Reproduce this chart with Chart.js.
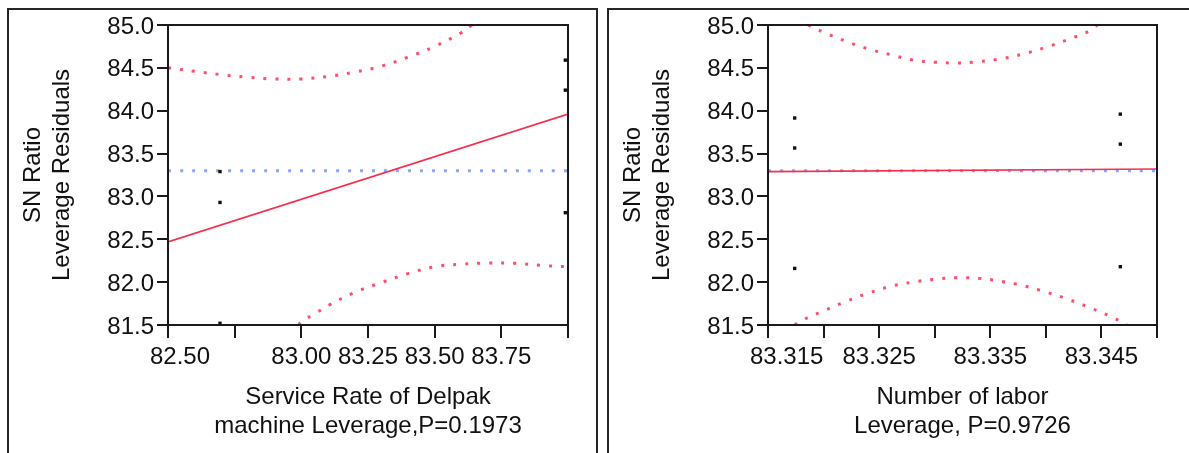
<!DOCTYPE html>
<html>
<head>
<meta charset="utf-8">
<title>SN Ratio leverage plots</title>
<script src="https://cdn.jsdelivr.net/npm/chart.js@4/dist/chart.umd.min.js"></script>
<style>
  html, body { margin: 0; padding: 0; background: #fff; }
  body { width: 1189px; height: 453px; position: relative; overflow: hidden; }
  .panel { position: absolute; top: 8px; height: 520px; border: 2px solid #262626; box-sizing: border-box; }
  #p1 { left: 7px; width: 591px; }
  #p2 { left: 607px; width: 640px; }
  canvas { position: absolute; top: 0; }
  #c1 { left: 0; }
  #c2 { left: 600px; }
</style>
</head>
<body>
<div class="panel" id="p1"></div>
<div class="panel" id="p2"></div>
<canvas id="c1" width="600" height="453"></canvas>
<canvas id="c2" width="589" height="453"></canvas>
<script>
// ---- shared response axis ----
const yTicks = [81.5, 82.0, 82.5, 83.0, 83.5, 84.0, 84.5, 85.0];
const yTickLabels = ['81.5', '82.0', '82.5', '83.0', '83.5', '84.0', '84.5', '85.0'];
const yTitle = ['SN Ratio', 'Leverage Residuals'];

// ---- Service Rate of Delpak machine ----
const delpakTicks = [82.5, 82.75, 83.0, 83.25, 83.5, 83.75, 84.0];
const delpakTickLabels = ['82.50', '', '83.00', '83.25', '83.50', '83.75', ''];
const delpakTitle = ['Service Rate of Delpak', 'machine Leverage,P=0.1973'];
const delpakX = [82.695, 82.695, 82.695, 83.99, 83.99, 83.99];
const delpakResid = [83.29, 82.93, 81.52, 84.59, 84.24, 82.81];
const delpakMean = 83.30;
const delpakFitX = [82.5, 84.0];
const delpakFitY = [82.47, 83.96];
const delpakUpperX = [82.5, 82.6, 82.7, 82.8, 82.9, 83.0, 83.1, 83.2, 83.3, 83.4, 83.5, 83.6, 83.64];
const delpakUpperY = [84.50, 84.46, 84.42, 84.39, 84.37, 84.37, 84.40, 84.45, 84.52, 84.625, 84.75, 84.91, 85.0];
const delpakLowerX = [82.99, 83.0, 83.05, 83.1, 83.2, 83.3, 83.4, 83.5, 83.6, 83.7, 83.8, 83.9, 84.0];
const delpakLowerY = [81.50, 81.54, 81.63, 81.725, 81.88, 81.995, 82.10, 82.18, 82.21, 82.223, 82.22, 82.195, 82.18];

// ---- Number of labor ----
const laborTicks = [83.315, 83.320, 83.325, 83.330, 83.335, 83.340, 83.345, 83.350];
const laborTickLabels = ['83.315', '', '83.325', '', '83.335', '', '83.345', ''];
const laborTitle = ['Number of labor', 'Leverage, P=0.9726'];
const laborX = [83.3174, 83.3174, 83.3174, 83.3467, 83.3467, 83.3467];
const laborResid = [83.915, 83.565, 82.16, 83.96, 83.61, 82.18];
const laborMean = 83.30;
const laborFitX = [83.315, 83.350];
const laborFitY = [83.29, 83.32];
const laborUpperX = [83.3186, 83.320, 83.322, 83.324, 83.326, 83.328, 83.330, 83.332, 83.334, 83.336, 83.338, 83.340, 83.342, 83.344, 83.3446];
const laborUpperY = [85.0, 84.915, 84.81, 84.722, 84.655, 84.592, 84.566, 84.557, 84.573, 84.606, 84.663, 84.74, 84.83, 84.936, 85.0];
const laborLowerX = [83.3174, 83.318, 83.320, 83.322, 83.324, 83.326, 83.328, 83.330, 83.332, 83.334, 83.336, 83.338, 83.340, 83.342, 83.344, 83.346, 83.3473];
const laborLowerY = [81.50, 81.551, 81.665, 81.774, 81.87, 81.95, 82.00, 82.034, 82.052, 82.044, 82.01, 81.957, 81.885, 81.80, 81.70, 81.59, 81.50];

const FONT = '"Liberation Sans", Arial, sans-serif';
const INK = '#111';
const AXIS = '#1a1a1a';
const BAND = '#ff4f6c';
const FIT = '#f5304f';
const MEAN = '#86a6ff';

const zip = (xs, ys) => xs.map((x, i) => ({ x, y: ys[i] }));

// Frame round the plot area plus the x tick labels (first label hangs left of its tick)
const axisDecor = {
  id: 'axisDecor',
  afterDraw(chart, args, opts) {
    const { ctx, chartArea: a, scales: { x } } = chart;
    ctx.save();
    ctx.strokeStyle = AXIS;
    ctx.lineWidth = 2;
    ctx.strokeRect(a.left, a.top, a.right - a.left, a.bottom - a.top);
    ctx.font = '24px ' + FONT;
    ctx.fillStyle = INK;
    ctx.textBaseline = 'middle';
    x.ticks.forEach((t, i) => {
      const s = opts.labels[i];
      if (!s) return;
      const px = x.getPixelForValue(t.value);
      if (i === 0) {
        ctx.textAlign = 'left';
        ctx.fillText(s, px - 18, a.bottom + 32);
      } else {
        ctx.textAlign = 'center';
        ctx.fillText(s, px, a.bottom + 32);
      }
    });
    ctx.restore();
  }
};

function leveragePlot(canvas, p) {
  const dotted = (data, color) => ({
    data, showLine: true, borderColor: color, borderWidth: 3,
    borderDash: [3, 9], borderCapStyle: 'butt', pointRadius: 0, tension: 0.4, fill: false
  });
  return new Chart(canvas, {
    type: 'scatter',
    data: {
      datasets: [
        { data: zip(p.px, p.py), pointStyle: 'rect', pointRadius: 2.4, backgroundColor: INK, borderWidth: 0 },
        { data: zip(p.fitX, p.fitY), showLine: true, borderColor: FIT, borderWidth: 1.7, pointRadius: 0 },
        dotted(zip(p.upX, p.upY), BAND),
        dotted(zip(p.loX, p.loY), BAND),
        dotted([{ x: p.ticks[0], y: p.mean }, { x: p.ticks[p.ticks.length - 1], y: p.mean }], MEAN)
      ]
    },
    options: {
      responsive: false,
      animation: false,
      devicePixelRatio: 1,
      layout: { padding: { top: 25, right: 32, left: 0, bottom: 0 } },
      plugins: { legend: { display: false }, tooltip: { enabled: false }, axisDecor: { labels: p.tickLabels } },
      scales: {
        x: {
          type: 'linear',
          min: p.ticks[0],
          max: p.ticks[p.ticks.length - 1],
          afterBuildTicks: s => { s.ticks = p.ticks.map(v => ({ value: v })); },
          afterFit: s => { s.height = 128; },
          ticks: { display: false },
          border: { display: false },
          grid: { drawOnChartArea: false, drawTicks: true, tickLength: 13, tickColor: AXIS, tickWidth: 2, lineWidth: 2 },
          title: { display: true, text: p.title, color: INK, font: { family: FONT, size: 24, lineHeight: 1.2 }, padding: { top: 0, bottom: 12 } }
        },
        y: {
          type: 'linear',
          min: yTicks[0],
          max: yTicks[yTicks.length - 1],
          afterBuildTicks: s => { s.ticks = yTicks.map(v => ({ value: v })); },
          afterFit: s => { s.width = 168; },
          ticks: { callback: (v, i) => yTickLabels[i], color: INK, font: { family: FONT, size: 24 }, padding: 3, labelOffset: 2 },
          border: { display: false },
          grid: { drawOnChartArea: false, drawTicks: true, tickLength: 11, tickColor: AXIS, tickWidth: 2, lineWidth: 2 },
          title: { display: true, text: yTitle, color: INK, font: { family: FONT, size: 24, lineHeight: 1.2 }, padding: { top: 19, bottom: 0 } }
        }
      }
    },
    plugins: [axisDecor]
  });
}

leveragePlot(document.getElementById('c1'), {
  ticks: delpakTicks, tickLabels: delpakTickLabels, title: delpakTitle,
  px: delpakX, py: delpakResid, mean: delpakMean,
  fitX: delpakFitX, fitY: delpakFitY,
  upX: delpakUpperX, upY: delpakUpperY, loX: delpakLowerX, loY: delpakLowerY
});

leveragePlot(document.getElementById('c2'), {
  ticks: laborTicks, tickLabels: laborTickLabels, title: laborTitle,
  px: laborX, py: laborResid, mean: laborMean,
  fitX: laborFitX, fitY: laborFitY,
  upX: laborUpperX, upY: laborUpperY, loX: laborLowerX, loY: laborLowerY
});
</script>
</body>
</html>
